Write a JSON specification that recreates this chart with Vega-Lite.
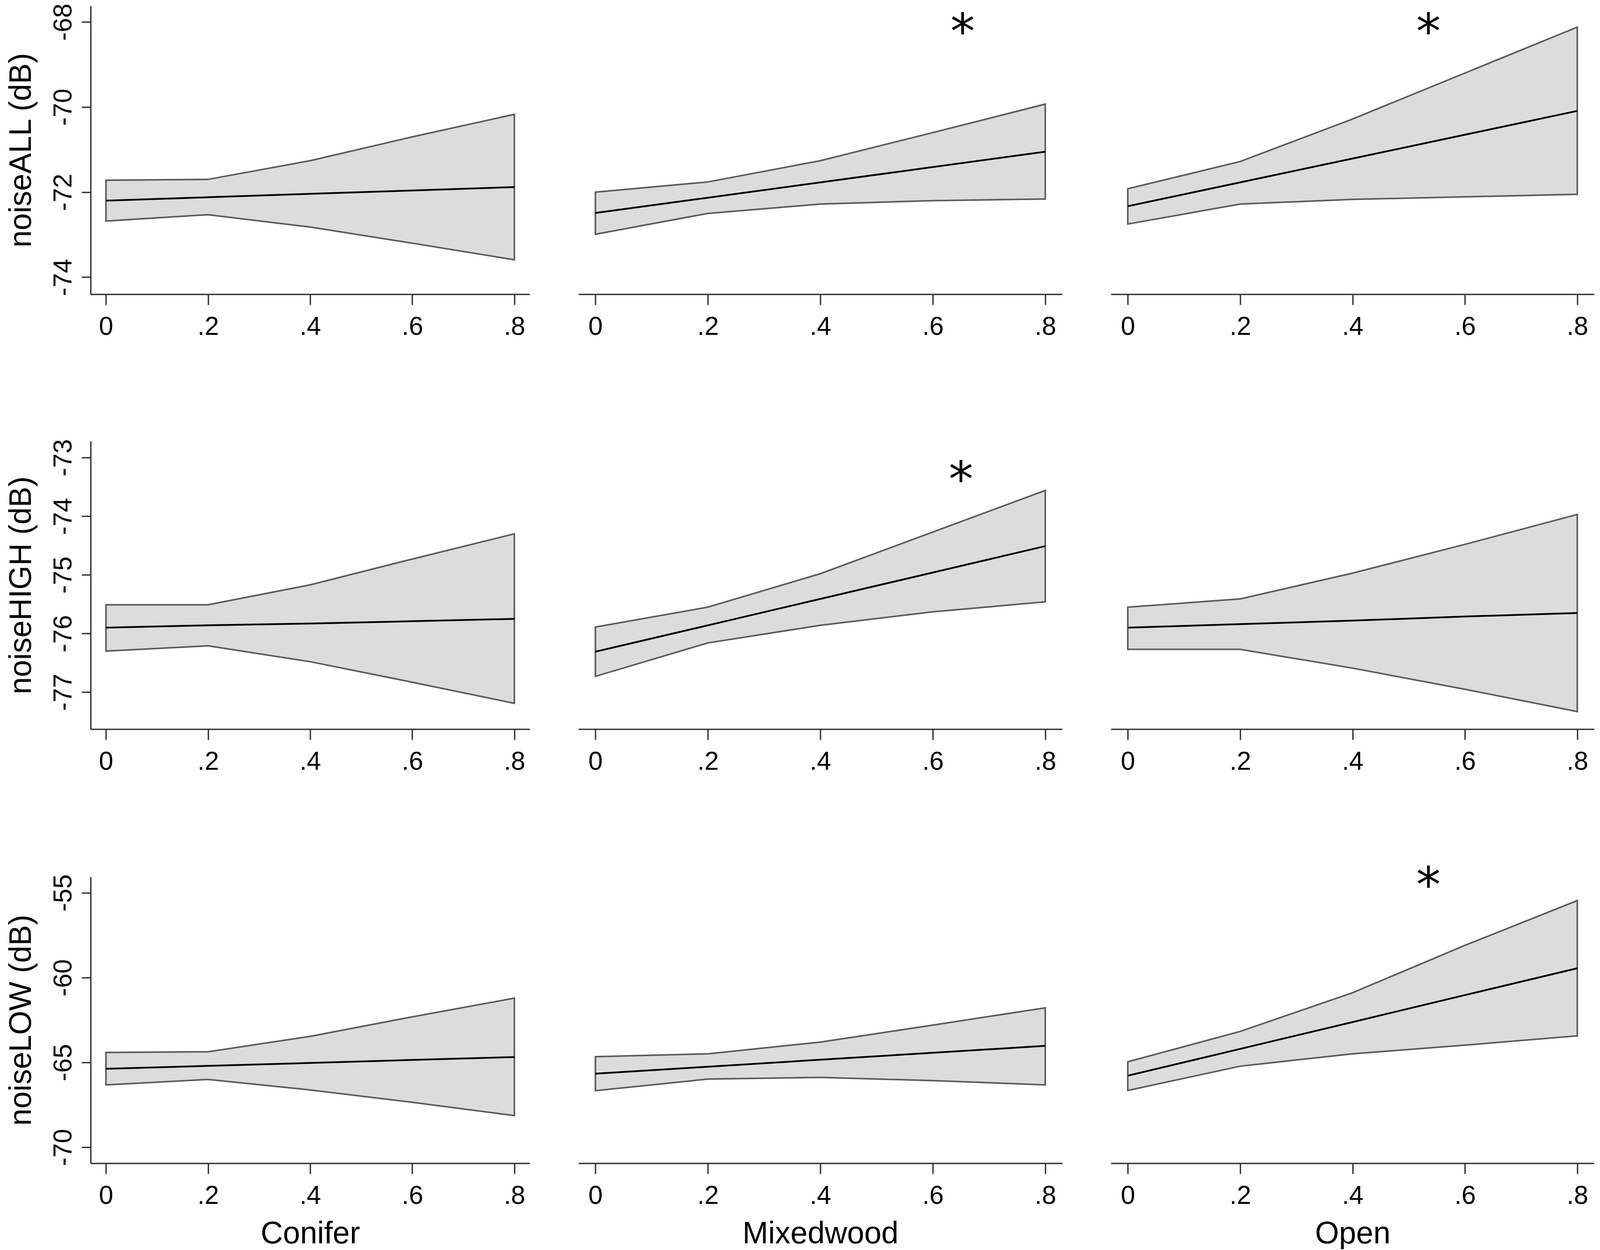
{
  "$schema": "https://vega.github.io/schema/vega-lite/v6.json",
  "background": "white",
  "padding": {"left": 14, "top": 8, "right": 18, "bottom": 0},
  "spacing": 254,
  "datasets": {
    "est": [
      {"o": "ALL", "c": "Conifer", "x": 0, "fit": -72.20, "lo": -72.68, "hi": -71.72},
      {"o": "ALL", "c": "Conifer", "x": 0.2, "fit": -72.12, "lo": -72.53, "hi": -71.70},
      {"o": "ALL", "c": "Conifer", "x": 0.4, "fit": -72.04, "lo": -72.82, "hi": -71.26},
      {"o": "ALL", "c": "Conifer", "x": 0.6, "fit": -71.96, "lo": -73.20, "hi": -70.70},
      {"o": "ALL", "c": "Conifer", "x": 0.8, "fit": -71.88, "lo": -73.59, "hi": -70.17},
      {"o": "ALL", "c": "Mixedwood", "x": 0, "fit": -72.49, "lo": -72.99, "hi": -72.00},
      {"o": "ALL", "c": "Mixedwood", "x": 0.2, "fit": -72.13, "lo": -72.50, "hi": -71.76},
      {"o": "ALL", "c": "Mixedwood", "x": 0.4, "fit": -71.77, "lo": -72.28, "hi": -71.26},
      {"o": "ALL", "c": "Mixedwood", "x": 0.6, "fit": -71.41, "lo": -72.20, "hi": -70.60},
      {"o": "ALL", "c": "Mixedwood", "x": 0.8, "fit": -71.05, "lo": -72.16, "hi": -69.93},
      {"o": "ALL", "c": "Open", "x": 0, "fit": -72.33, "lo": -72.75, "hi": -71.92},
      {"o": "ALL", "c": "Open", "x": 0.2, "fit": -71.77, "lo": -72.28, "hi": -71.28},
      {"o": "ALL", "c": "Open", "x": 0.4, "fit": -71.21, "lo": -72.17, "hi": -70.28},
      {"o": "ALL", "c": "Open", "x": 0.6, "fit": -70.65, "lo": -72.11, "hi": -69.20},
      {"o": "ALL", "c": "Open", "x": 0.8, "fit": -70.09, "lo": -72.05, "hi": -68.12},
      {"o": "HIGH", "c": "Conifer", "x": 0, "fit": -75.90, "lo": -76.30, "hi": -75.51},
      {"o": "HIGH", "c": "Conifer", "x": 0.2, "fit": -75.86, "lo": -76.21, "hi": -75.51},
      {"o": "HIGH", "c": "Conifer", "x": 0.4, "fit": -75.83, "lo": -76.48, "hi": -75.17},
      {"o": "HIGH", "c": "Conifer", "x": 0.6, "fit": -75.79, "lo": -76.83, "hi": -74.73},
      {"o": "HIGH", "c": "Conifer", "x": 0.8, "fit": -75.75, "lo": -77.19, "hi": -74.30},
      {"o": "HIGH", "c": "Mixedwood", "x": 0, "fit": -76.31, "lo": -76.73, "hi": -75.89},
      {"o": "HIGH", "c": "Mixedwood", "x": 0.2, "fit": -75.86, "lo": -76.16, "hi": -75.55},
      {"o": "HIGH", "c": "Mixedwood", "x": 0.4, "fit": -75.41, "lo": -75.86, "hi": -74.98},
      {"o": "HIGH", "c": "Mixedwood", "x": 0.6, "fit": -74.96, "lo": -75.63, "hi": -74.27},
      {"o": "HIGH", "c": "Mixedwood", "x": 0.8, "fit": -74.51, "lo": -75.46, "hi": -73.56},
      {"o": "HIGH", "c": "Open", "x": 0, "fit": -75.90, "lo": -76.27, "hi": -75.55},
      {"o": "HIGH", "c": "Open", "x": 0.2, "fit": -75.84, "lo": -76.27, "hi": -75.41},
      {"o": "HIGH", "c": "Open", "x": 0.4, "fit": -75.78, "lo": -76.59, "hi": -74.97},
      {"o": "HIGH", "c": "Open", "x": 0.6, "fit": -75.71, "lo": -76.95, "hi": -74.48},
      {"o": "HIGH", "c": "Open", "x": 0.8, "fit": -75.65, "lo": -77.33, "hi": -73.97},
      {"o": "LOW", "c": "Conifer", "x": 0, "fit": -65.37, "lo": -66.32, "hi": -64.41},
      {"o": "LOW", "c": "Conifer", "x": 0.2, "fit": -65.20, "lo": -66.00, "hi": -64.37},
      {"o": "LOW", "c": "Conifer", "x": 0.4, "fit": -65.03, "lo": -66.62, "hi": -63.46},
      {"o": "LOW", "c": "Conifer", "x": 0.6, "fit": -64.85, "lo": -67.35, "hi": -62.31},
      {"o": "LOW", "c": "Conifer", "x": 0.8, "fit": -64.68, "lo": -68.13, "hi": -61.21},
      {"o": "LOW", "c": "Mixedwood", "x": 0, "fit": -65.66, "lo": -66.66, "hi": -64.66},
      {"o": "LOW", "c": "Mixedwood", "x": 0.2, "fit": -65.25, "lo": -65.98, "hi": -64.49},
      {"o": "LOW", "c": "Mixedwood", "x": 0.4, "fit": -64.84, "lo": -65.88, "hi": -63.80},
      {"o": "LOW", "c": "Mixedwood", "x": 0.6, "fit": -64.43, "lo": -66.07, "hi": -62.80},
      {"o": "LOW", "c": "Mixedwood", "x": 0.8, "fit": -64.02, "lo": -66.32, "hi": -61.78},
      {"o": "LOW", "c": "Open", "x": 0, "fit": -65.78, "lo": -66.65, "hi": -64.96},
      {"o": "LOW", "c": "Open", "x": 0.2, "fit": -64.20, "lo": -65.22, "hi": -63.17},
      {"o": "LOW", "c": "Open", "x": 0.4, "fit": -62.62, "lo": -64.49, "hi": -60.89},
      {"o": "LOW", "c": "Open", "x": 0.6, "fit": -61.03, "lo": -63.98, "hi": -58.10},
      {"o": "LOW", "c": "Open", "x": 0.8, "fit": -59.45, "lo": -63.43, "hi": -55.46}
    ],
    "stars": [
      {"o": "ALL", "c": "Mixedwood", "sx": 0.653, "sy": -68.09, "t": "*"},
      {"o": "ALL", "c": "Open", "sx": 0.535, "sy": -68.09, "t": "*"},
      {"o": "HIGH", "c": "Mixedwood", "sx": 0.65, "sy": -73.27, "t": "*"},
      {"o": "LOW", "c": "Open", "sx": 0.535, "sy": -54.19, "t": "*"}
    ]
  },
  "vconcat": [
    {
      "spacing": 125,
      "hconcat": [
        {
          "width": 1124, "height": 738,
          "layer": [
            {
              "data": {"name": "est"},
              "transform": [{"filter": "datum.o == 'ALL' && datum.c == 'Conifer'"}],
              "mark": {"type": "area", "fill": "#dcdcdc", "stroke": "#5a5a5a", "strokeWidth": 4},
              "encoding": {
                "x": {"field": "x", "type": "quantitative", "scale": {"domain": [-0.03, 0.83], "nice": false, "zero": false}, "axis": {"values": [0, 0.2, 0.4, 0.6, 0.8], "labelExpr": "datum.value == 0 ? '0' : replace(format(datum.value, '.1f'), '0.', '.')"}, "title": null},
                "y": {"field": "lo", "type": "quantitative", "scale": {"domain": [-74.40, -67.62], "nice": false, "zero": false}, "axis": {"values": [-74, -72, -70, -68], "labelExpr": "'' + datum.value"}, "title": "noiseALL (dB)"},
                "y2": {"field": "hi"}
              }
            },
            {
              "data": {"name": "est"},
              "transform": [{"filter": "datum.o == 'ALL' && datum.c == 'Conifer'"}],
              "mark": {"type": "line", "color": "#000000", "strokeWidth": 4.5},
              "encoding": {
                "x": {"field": "x", "type": "quantitative", "title": null},
                "y": {"field": "fit", "type": "quantitative", "title": "noiseALL (dB)"}
              }
            }
          ]
        },
        {
          "width": 1238, "height": 738,
          "layer": [
            {
              "data": {"name": "est"},
              "transform": [{"filter": "datum.o == 'ALL' && datum.c == 'Mixedwood'"}],
              "mark": {"type": "area", "fill": "#dcdcdc", "stroke": "#5a5a5a", "strokeWidth": 4},
              "encoding": {
                "x": {"field": "x", "type": "quantitative", "scale": {"domain": [-0.03, 0.83], "nice": false, "zero": false}, "axis": {"values": [0, 0.2, 0.4, 0.6, 0.8], "labelExpr": "datum.value == 0 ? '0' : replace(format(datum.value, '.1f'), '0.', '.')"}, "title": null},
                "y": {"field": "lo", "type": "quantitative", "scale": {"domain": [-74.40, -67.62], "nice": false, "zero": false}, "axis": null},
                "y2": {"field": "hi"}
              }
            },
            {
              "data": {"name": "est"},
              "transform": [{"filter": "datum.o == 'ALL' && datum.c == 'Mixedwood'"}],
              "mark": {"type": "line", "color": "#000000", "strokeWidth": 4.5},
              "encoding": {
                "x": {"field": "x", "type": "quantitative", "title": null},
                "y": {"field": "fit", "type": "quantitative", "axis": null}
              }
            },
            {
              "data": {"name": "stars"},
              "transform": [{"filter": "datum.o == 'ALL' && datum.c == 'Mixedwood'"}],
              "mark": {"type": "text", "font": "DejaVu Sans", "fontSize": 125, "baseline": "middle", "align": "center", "dy": 20, "color": "#000000"},
              "encoding": {
                "x": {"field": "sx", "type": "quantitative"},
                "y": {"field": "sy", "type": "quantitative", "axis": null},
                "text": {"field": "t"}
              }
            }
          ]
        },
        {
          "width": 1237, "height": 738,
          "layer": [
            {
              "data": {"name": "est"},
              "transform": [{"filter": "datum.o == 'ALL' && datum.c == 'Open'"}],
              "mark": {"type": "area", "fill": "#dcdcdc", "stroke": "#5a5a5a", "strokeWidth": 4},
              "encoding": {
                "x": {"field": "x", "type": "quantitative", "scale": {"domain": [-0.03, 0.83], "nice": false, "zero": false}, "axis": {"values": [0, 0.2, 0.4, 0.6, 0.8], "labelExpr": "datum.value == 0 ? '0' : replace(format(datum.value, '.1f'), '0.', '.')"}, "title": null},
                "y": {"field": "lo", "type": "quantitative", "scale": {"domain": [-74.40, -67.62], "nice": false, "zero": false}, "axis": null},
                "y2": {"field": "hi"}
              }
            },
            {
              "data": {"name": "est"},
              "transform": [{"filter": "datum.o == 'ALL' && datum.c == 'Open'"}],
              "mark": {"type": "line", "color": "#000000", "strokeWidth": 4.5},
              "encoding": {
                "x": {"field": "x", "type": "quantitative", "title": null},
                "y": {"field": "fit", "type": "quantitative", "axis": null}
              }
            },
            {
              "data": {"name": "stars"},
              "transform": [{"filter": "datum.o == 'ALL' && datum.c == 'Open'"}],
              "mark": {"type": "text", "font": "DejaVu Sans", "fontSize": 125, "baseline": "middle", "align": "center", "dy": 20, "color": "#000000"},
              "encoding": {
                "x": {"field": "sx", "type": "quantitative"},
                "y": {"field": "sy", "type": "quantitative", "axis": null},
                "text": {"field": "t"}
              }
            }
          ]
        }
      ]
    },
    {
      "spacing": 225,
      "vconcat": [
        {
          "spacing": 125,
          "hconcat": [
            {
              "width": 1124, "height": 737,
              "layer": [
                {
                  "data": {"name": "est"},
                  "transform": [{"filter": "datum.o == 'HIGH' && datum.c == 'Conifer'"}],
                  "mark": {"type": "area", "fill": "#dcdcdc", "stroke": "#5a5a5a", "strokeWidth": 4},
                  "encoding": {
                    "x": {"field": "x", "type": "quantitative", "scale": {"domain": [-0.03, 0.83], "nice": false, "zero": false}, "axis": {"values": [0, 0.2, 0.4, 0.6, 0.8], "labelExpr": "datum.value == 0 ? '0' : replace(format(datum.value, '.1f'), '0.', '.')"}, "title": null},
                    "y": {"field": "lo", "type": "quantitative", "scale": {"domain": [-77.63, -72.72], "nice": false, "zero": false}, "axis": {"values": [-77, -76, -75, -74, -73], "labelExpr": "'' + datum.value"}, "title": "noiseHIGH (dB)"},
                    "y2": {"field": "hi"}
                  }
                },
                {
                  "data": {"name": "est"},
                  "transform": [{"filter": "datum.o == 'HIGH' && datum.c == 'Conifer'"}],
                  "mark": {"type": "line", "color": "#000000", "strokeWidth": 4.5},
                  "encoding": {
                    "x": {"field": "x", "type": "quantitative", "title": null},
                    "y": {"field": "fit", "type": "quantitative", "title": "noiseHIGH (dB)"}
                  }
                }
              ]
            },
            {
              "width": 1238, "height": 737,
              "layer": [
                {
                  "data": {"name": "est"},
                  "transform": [{"filter": "datum.o == 'HIGH' && datum.c == 'Mixedwood'"}],
                  "mark": {"type": "area", "fill": "#dcdcdc", "stroke": "#5a5a5a", "strokeWidth": 4},
                  "encoding": {
                    "x": {"field": "x", "type": "quantitative", "scale": {"domain": [-0.03, 0.83], "nice": false, "zero": false}, "axis": {"values": [0, 0.2, 0.4, 0.6, 0.8], "labelExpr": "datum.value == 0 ? '0' : replace(format(datum.value, '.1f'), '0.', '.')"}, "title": null},
                    "y": {"field": "lo", "type": "quantitative", "scale": {"domain": [-77.63, -72.72], "nice": false, "zero": false}, "axis": null},
                    "y2": {"field": "hi"}
                  }
                },
                {
                  "data": {"name": "est"},
                  "transform": [{"filter": "datum.o == 'HIGH' && datum.c == 'Mixedwood'"}],
                  "mark": {"type": "line", "color": "#000000", "strokeWidth": 4.5},
                  "encoding": {
                    "x": {"field": "x", "type": "quantitative", "title": null},
                    "y": {"field": "fit", "type": "quantitative", "axis": null}
                  }
                },
                {
                  "data": {"name": "stars"},
                  "transform": [{"filter": "datum.o == 'HIGH' && datum.c == 'Mixedwood'"}],
                  "mark": {"type": "text", "font": "DejaVu Sans", "fontSize": 125, "baseline": "middle", "align": "center", "dy": 20, "color": "#000000"},
                  "encoding": {
                    "x": {"field": "sx", "type": "quantitative"},
                    "y": {"field": "sy", "type": "quantitative", "axis": null},
                    "text": {"field": "t"}
                  }
                }
              ]
            },
            {
              "width": 1237, "height": 737,
              "layer": [
                {
                  "data": {"name": "est"},
                  "transform": [{"filter": "datum.o == 'HIGH' && datum.c == 'Open'"}],
                  "mark": {"type": "area", "fill": "#dcdcdc", "stroke": "#5a5a5a", "strokeWidth": 4},
                  "encoding": {
                    "x": {"field": "x", "type": "quantitative", "scale": {"domain": [-0.03, 0.83], "nice": false, "zero": false}, "axis": {"values": [0, 0.2, 0.4, 0.6, 0.8], "labelExpr": "datum.value == 0 ? '0' : replace(format(datum.value, '.1f'), '0.', '.')"}, "title": null},
                    "y": {"field": "lo", "type": "quantitative", "scale": {"domain": [-77.63, -72.72], "nice": false, "zero": false}, "axis": null},
                    "y2": {"field": "hi"}
                  }
                },
                {
                  "data": {"name": "est"},
                  "transform": [{"filter": "datum.o == 'HIGH' && datum.c == 'Open'"}],
                  "mark": {"type": "line", "color": "#000000", "strokeWidth": 4.5},
                  "encoding": {
                    "x": {"field": "x", "type": "quantitative", "title": null},
                    "y": {"field": "fit", "type": "quantitative", "axis": null}
                  }
                }
              ]
            }
          ]
        },
        {
          "spacing": 125,
          "hconcat": [
            {
              "width": 1124, "height": 733,
              "layer": [
                {
                  "data": {"name": "est"},
                  "transform": [{"filter": "datum.o == 'LOW' && datum.c == 'Conifer'"}],
                  "mark": {"type": "area", "fill": "#dcdcdc", "stroke": "#5a5a5a", "strokeWidth": 4},
                  "encoding": {
                    "x": {"field": "x", "type": "quantitative", "scale": {"domain": [-0.03, 0.83], "nice": false, "zero": false}, "axis": {"values": [0, 0.2, 0.4, 0.6, 0.8], "labelExpr": "datum.value == 0 ? '0' : replace(format(datum.value, '.1f'), '0.', '.')"}, "title": "Conifer"},
                    "y": {"field": "lo", "type": "quantitative", "scale": {"domain": [-70.94, -54.06], "nice": false, "zero": false}, "axis": {"values": [-70, -65, -60, -55], "labelExpr": "'' + datum.value"}, "title": "noiseLOW (dB)"},
                    "y2": {"field": "hi"}
                  }
                },
                {
                  "data": {"name": "est"},
                  "transform": [{"filter": "datum.o == 'LOW' && datum.c == 'Conifer'"}],
                  "mark": {"type": "line", "color": "#000000", "strokeWidth": 4.5},
                  "encoding": {
                    "x": {"field": "x", "type": "quantitative", "title": "Conifer"},
                    "y": {"field": "fit", "type": "quantitative", "title": "noiseLOW (dB)"}
                  }
                }
              ]
            },
            {
              "width": 1238, "height": 733,
              "layer": [
                {
                  "data": {"name": "est"},
                  "transform": [{"filter": "datum.o == 'LOW' && datum.c == 'Mixedwood'"}],
                  "mark": {"type": "area", "fill": "#dcdcdc", "stroke": "#5a5a5a", "strokeWidth": 4},
                  "encoding": {
                    "x": {"field": "x", "type": "quantitative", "scale": {"domain": [-0.03, 0.83], "nice": false, "zero": false}, "axis": {"values": [0, 0.2, 0.4, 0.6, 0.8], "labelExpr": "datum.value == 0 ? '0' : replace(format(datum.value, '.1f'), '0.', '.')"}, "title": "Mixedwood"},
                    "y": {"field": "lo", "type": "quantitative", "scale": {"domain": [-70.94, -54.06], "nice": false, "zero": false}, "axis": null},
                    "y2": {"field": "hi"}
                  }
                },
                {
                  "data": {"name": "est"},
                  "transform": [{"filter": "datum.o == 'LOW' && datum.c == 'Mixedwood'"}],
                  "mark": {"type": "line", "color": "#000000", "strokeWidth": 4.5},
                  "encoding": {
                    "x": {"field": "x", "type": "quantitative", "title": "Mixedwood"},
                    "y": {"field": "fit", "type": "quantitative", "axis": null}
                  }
                }
              ]
            },
            {
              "width": 1237, "height": 733,
              "layer": [
                {
                  "data": {"name": "est"},
                  "transform": [{"filter": "datum.o == 'LOW' && datum.c == 'Open'"}],
                  "mark": {"type": "area", "fill": "#dcdcdc", "stroke": "#5a5a5a", "strokeWidth": 4},
                  "encoding": {
                    "x": {"field": "x", "type": "quantitative", "scale": {"domain": [-0.03, 0.83], "nice": false, "zero": false}, "axis": {"values": [0, 0.2, 0.4, 0.6, 0.8], "labelExpr": "datum.value == 0 ? '0' : replace(format(datum.value, '.1f'), '0.', '.')"}, "title": "Open"},
                    "y": {"field": "lo", "type": "quantitative", "scale": {"domain": [-70.94, -54.06], "nice": false, "zero": false}, "axis": null},
                    "y2": {"field": "hi"}
                  }
                },
                {
                  "data": {"name": "est"},
                  "transform": [{"filter": "datum.o == 'LOW' && datum.c == 'Open'"}],
                  "mark": {"type": "line", "color": "#000000", "strokeWidth": 4.5},
                  "encoding": {
                    "x": {"field": "x", "type": "quantitative", "title": "Open"},
                    "y": {"field": "fit", "type": "quantitative", "axis": null}
                  }
                },
                {
                  "data": {"name": "stars"},
                  "transform": [{"filter": "datum.o == 'LOW' && datum.c == 'Open'"}],
                  "mark": {"type": "text", "font": "DejaVu Sans", "fontSize": 125, "baseline": "middle", "align": "center", "dy": 20, "color": "#000000"},
                  "encoding": {
                    "x": {"field": "sx", "type": "quantitative"},
                    "y": {"field": "sy", "type": "quantitative", "axis": null},
                    "text": {"field": "t"}
                  }
                }
              ]
            }
          ]
        }
      ]
    }
  ],
  "config": {
    "view": {"stroke": null},
    "font": "Liberation Sans",
    "axis": {
      "grid": false,
      "domainColor": "#333333",
      "domainWidth": 3.5,
      "tickColor": "#333333",
      "tickWidth": 3.5,
      "labelFont": "Liberation Sans",
      "labelFontSize": 66,
      "labelColor": "#000000",
      "labelFlush": false,
      "labelOverlap": false,
      "titleFont": "Liberation Sans",
      "titleFontSize": 79,
      "titleFontWeight": "normal",
      "titleColor": "#000000"
    },
    "axisY": {"labelAngle": -90, "labelAlign": "center", "labelBaseline": "bottom", "tickSize": 23, "labelPadding": 13, "titlePadding": 34},
    "axisX": {"tickSize": 27, "labelPadding": 24, "titlePadding": 26}
  }
}
